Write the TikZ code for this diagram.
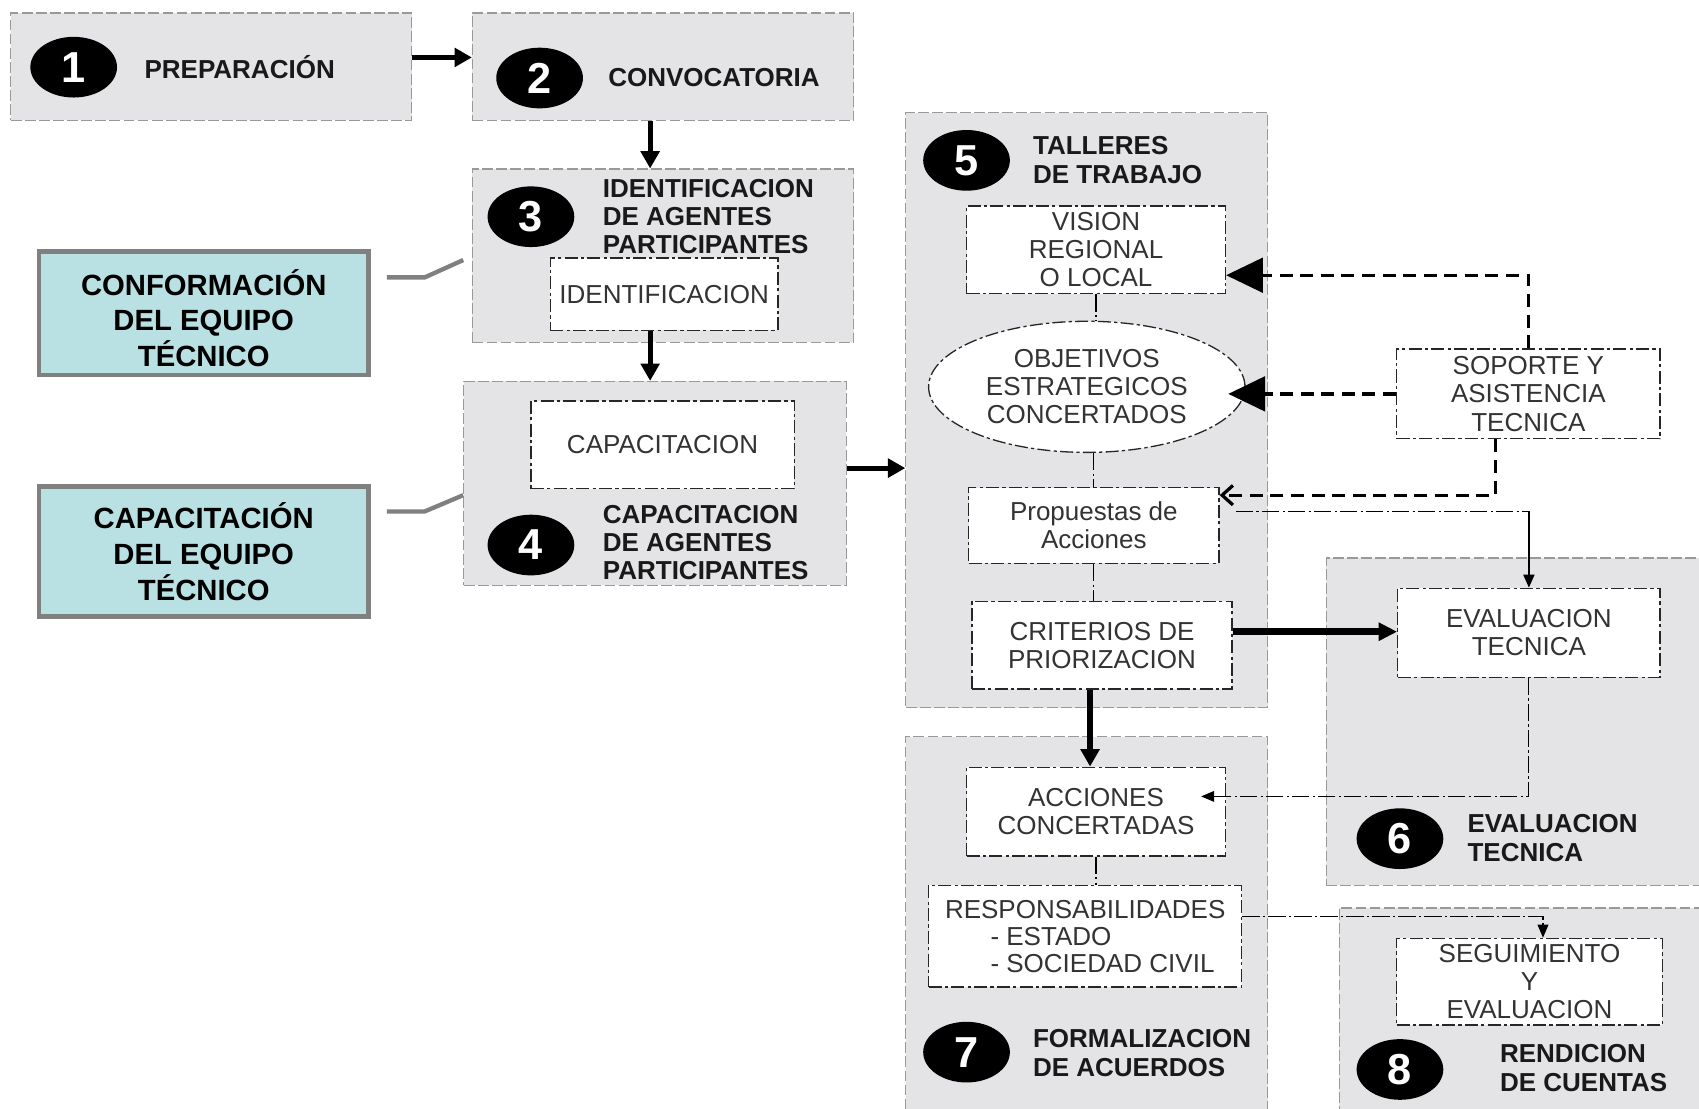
\documentclass[tikz,border=0pt]{standalone}
\usepackage{fontspec}
\setmainfont{Liberation Sans}
\usetikzlibrary{arrows.meta,shapes.geometric}
\definecolor{fondo}{HTML}{E4E4E6}
\definecolor{turquesa}{HTML}{B9E0E2}
\definecolor{borde}{HTML}{808080}
\begin{document}
\begin{tikzpicture}[x=0.5pt,y=-0.5pt,
	etapa/.style={draw=gray!80,fill=fondo,dash pattern=on 5pt off 1.5pt,line width=0.5pt,inner sep=0pt},
	caja/.style={draw=black!85,fill=white,dash pattern=on 6pt off 1.5pt on 1.5pt off 1.5pt,line width=0.6pt,inner sep=0pt,align=center,text=black!80,font=\fontsize{12}{13}\selectfont},
	num/.style={ellipse,fill=black,text=white,minimum width=40pt,minimum height=28pt,inner sep=0pt,font=\bfseries\fontsize{20}{20}\selectfont},
	titulo/.style={anchor=west,align=left,inner sep=0pt,text=black!90,font=\bfseries\fontsize{12}{13.5}\selectfont},
	equipo/.style={draw=borde,line width=2pt,fill=turquesa,minimum width=152pt,align=center,inner sep=0pt,font=\bfseries\fontsize{13.5}{16.5}\selectfont},
	flecha/.style={line width=2.4pt,-{Triangle[length=8pt,width=8.5pt]}},
	flechag/.style={line width=3pt,-{Triangle[length=8.5pt,width=8pt]}},
	enlace/.style={line width=0.5pt,dash pattern=on 8pt off 1.5pt on 1pt off 1.5pt},
	fina/.style={line width=1pt,-{Triangle[length=6pt,width=5pt]}},
	apoyo/.style={line width=1.5pt,dash pattern=on 6pt off 3.5pt,-{Triangle[length=17pt,width=16pt]}},
	apoyob/.style={line width=1.5pt,dash pattern=on 6pt off 3.5pt,-{Straight Barb[length=5pt,width=9pt]}},
	lazo/.style={draw=borde,line width=2pt}]
		\useasboundingbox (0,0) rectangle (1568,1023);
		\node[etapa,minimum width=185pt,minimum height=49.5pt] (e1) at (195,61.5) {};
		\node[etapa,minimum width=176pt,minimum height=49.5pt] (e2) at (612,61.5) {};
		\node[etapa,minimum width=176pt,minimum height=80pt] (e3) at (612,236) {};
		\node[etapa,minimum width=176.5pt,minimum height=94pt] (e4) at (604.5,446) {};
		\node[etapa,minimum width=167pt,minimum height=274.5pt] (e5) at (1003,378.5) {};
		\node[etapa,minimum width=175.5pt,minimum height=151pt] (e6) at (1399.5,666) {};
		\node[etapa,minimum width=167pt,minimum height=175pt] (e7) at (1003,855) {};
		\node[etapa,minimum width=169.5pt,minimum height=96pt] (e8) at (1405.5,934) {};
		\node[num] (n1) at (68,62) {1};
		\node[num] (n2) at (498,72) {2};
		\node[num] (n3) at (490,200) {3};
		\node[num] (n4) at (490,503) {4};
		\node[num] (n5) at (892,148) {5};
		\node[num] (n6) at (1292,774) {6};
		\node[num] (n7) at (892,971) {7};
		\node[num] (n8) at (1292,987) {8};
		\node[titulo] (t1) at (133,62) {PREPARACIÓN};
		\node[titulo] (t2) at (561,72) {CONVOCATORIA};
		\node[titulo,font=\bfseries\fontsize{12}{13}\selectfont] (t3) at (556,200) {IDENTIFICACION\\DE AGENTES\\PARTICIPANTES};
		\node[titulo,font=\bfseries\fontsize{12}{13}\selectfont] (t4) at (556,501) {CAPACITACION\\DE AGENTES\\PARTICIPANTES};
		\node[titulo] (t5) at (953,147.5) {TALLERES\\DE TRABAJO};
		\node[titulo] (t6) at (1354,773.5) {EVALUACION\\TECNICA};
		\node[titulo] (t7) at (953,971.5) {FORMALIZACION\\DE ACUERDOS};
		\node[titulo] (t8) at (1384,985.5) {RENDICION\\DE CUENTAS};
		\node[caja,minimum width=105pt,minimum height=33.5pt] (ident) at (613,271.5) {IDENTIFICACION};
		\node[caja,minimum width=121.5pt,minimum height=40.5pt] (capac) at (611.5,410.5) {CAPACITACION};
		\node[caja,minimum width=119.5pt,minimum height=40.5pt] (vision) at (1011.5,230.5) {VISION\\REGIONAL\\O LOCAL};
		\node[caja,ellipse,minimum width=146pt,minimum height=60.5pt] (objet) at (1003,357) {OBJETIVOS\\ESTRATEGICOS\\CONCERTADOS};
		\node[caja,minimum width=115.5pt,minimum height=35pt] (prop) at (1009.5,485) {Propuestas de\\Acciones};
		\node[caja,minimum width=120pt,minimum height=40.5pt] (crit) at (1017,595.5) {CRITERIOS DE\\PRIORIZACION};
		\node[caja,minimum width=121.5pt,minimum height=41.5pt] (soporte) at (1410.5,363.5) {SOPORTE Y\\ASISTENCIA\\TECNICA};
		\node[caja,minimum width=121pt,minimum height=41pt] (evalt) at (1411,584) {EVALUACION\\TECNICA};
		\node[caja,minimum width=119.5pt,minimum height=41pt] (acc) at (1011.5,749) {ACCIONES\\CONCERTADAS};
		\node[caja,align=left,minimum width=144.5pt,minimum height=47pt,font=\fontsize{12}{12.5}\selectfont] (resp) at (1001.5,864) {RESPONSABILIDADES\\\hspace*{21pt}- ESTADO\\\hspace*{21pt}- SOCIEDAD CIVIL};
		\node[caja,minimum width=122.5pt,minimum height=40pt] (segu) at (1411.5,906) {SEGUIMIENTO\\Y\\EVALUACION};
		\node[equipo,minimum height=57pt] (conf) at (188,289) {\rule{0pt}{16.5pt}CONFORMACIÓN\\DEL EQUIPO\\TÉCNICO};
		\node[equipo,minimum height=60pt] (capt) at (188,509) {CAPACITACIÓN\\DEL EQUIPO\\TÉCNICO};
		\draw[flecha] ([yshift=4.25pt]e1.east) -- ([yshift=4.25pt]e2.west);
		\draw[flecha] ([xshift=-6pt]e2.south) -- ([xshift=-6pt]e3.north);
		\draw[flecha] ([xshift=-6.5pt]ident.south) -- ([xshift=-6.5pt]ident.south |- e4.north);
		\draw[flecha] ([yshift=7pt]e4.east) -- ([yshift=7pt]e4.east -| e5.west);
		\draw[enlace] (vision.south) -- (vision.south |- objet.north);
		\draw[enlace] (prop.north |- objet.south) -- (prop.north);
		\draw[enlace] (prop.south) -- (prop.south |- crit.north);
		\draw[enlace] (acc.south) -- (acc.south |- resp.north);
		\draw[apoyo] (soporte.north) |- ([yshift=-11.75pt]vision.east);
		\draw[apoyo] (soporte.west) -- ([xshift=-8pt]soporte.west -| objet.east);
		\draw[apoyob] ([xshift=-15.25pt]soporte.south) |- ([yshift=14pt]prop.east);
		\coordinate (pr) at ([yshift=6.5pt]prop.east);
		\draw[enlace] ([xshift=7.5pt]pr) -- (pr -| evalt.north);
		\draw[fina] (pr -| evalt.north) -- (evalt.north);
		\draw[flechag] ([yshift=6.25pt]crit.east) -- ([yshift=6.25pt]crit.east -| evalt.west);
		\draw[flecha] ([xshift=-5.5pt]crit.south) -- ([xshift=-5.5pt]crit.south |- acc.north);
		\draw[enlace,-{Triangle[length=6pt,width=5pt]}] (evalt.south) |- ([xshift=-11.5pt,yshift=7pt]acc.east);
		\draw[enlace,-{Triangle[length=6pt,width=5pt]}] ([yshift=9pt]resp.east) -| ([xshift=6.25pt]segu.north);
		\draw[lazo] ([xshift=7.5pt,yshift=16.5pt]conf.east) -- ++(17.5pt,0) -- ([xshift=-4pt,yshift=-2pt]e3.west);
		\draw[lazo] ([xshift=7.5pt,yshift=18.5pt]capt.east) -- ++(17.5pt,0) -- ([yshift=-5.5pt]e4.west);
\end{tikzpicture}
\end{document}
